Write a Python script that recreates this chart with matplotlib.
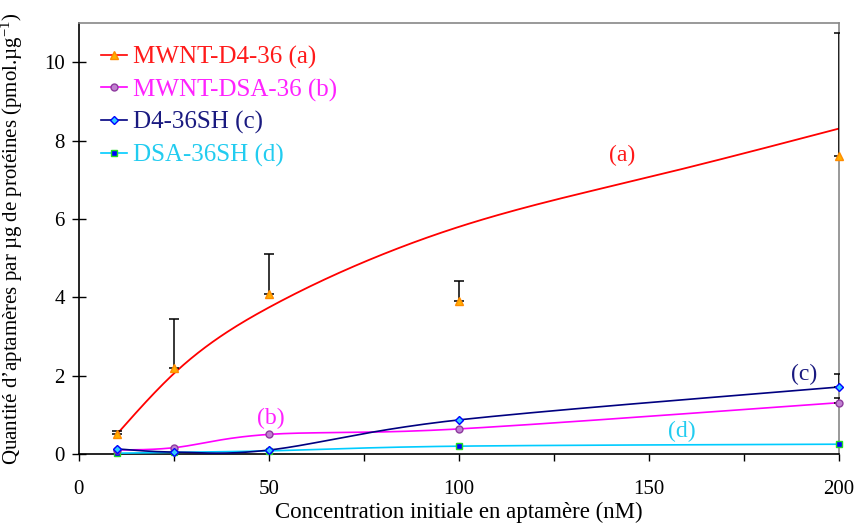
import numpy as np
import matplotlib
matplotlib.use('Agg')
import matplotlib.pyplot as plt
from matplotlib.lines import Line2D
from matplotlib.ticker import MultipleLocator

plt.rcParams['font.family'] = 'Liberation Serif'
plt.rcParams['mathtext.fontset'] = 'custom'
plt.rcParams['mathtext.rm'] = 'Liberation Serif'
plt.rcParams['mathtext.default'] = 'regular'

conc = [10, 25, 50, 100, 200]

# (a) MWNT-D4-36 : points, upper error, and the trend curve
mwnt_d4 = [0.50, 2.19, 4.09, 3.90, 7.60]
mwnt_d4_err = [0.09, 1.25, 1.01, 0.51, 3.14]
fit_x = [10, 25, 50, 75, 100, 150, 200]
fit_y = [0.50, 2.05, 3.74, 4.90, 5.80, 7.07, 8.31]
# (b) MWNT-DSA-36
mwnt_dsa = [0.10, 0.16, 0.50, 0.64, 1.31]
mwnt_dsa_err = [0, 0, 0, 0, 0.12]
# (c) D4-36SH
d4_sh = [0.13, 0.05, 0.10, 0.87, 1.71]
d4_sh_err = [0, 0, 0, 0, 0.34]
# (d) DSA-36SH
dsa_sh = [0.02, 0.04, 0.08, 0.20, 0.25]

labels = ['MWNT-D4-36 (a)', 'MWNT-DSA-36 (b)', 'D4-36SH (c)', 'DSA-36SH (d)']
line_colors = ['#FF0000', '#FF00FF', '#000080', '#00CCFF']
text_colors = ['#FF1A1A', '#FF22FF', '#1A1A80', '#22CCF0']
markers = ['^', 'o', 'D', 's']
mfcs = ['#FFB000', '#C080D0', '#33CCFF', '#0000FF']
mecs = ['#FF8C00', '#8E3A9E', '#0000FF', '#22DD22']
msizes = [5.5, 5, 4.5, 5]


def smooth(xs, ys, n=40):
    # excel-like smoothed line: bezier segments with catmull-rom control points
    p = np.column_stack([xs, ys]).astype(float)
    out = []
    for i in range(len(p) - 1):
        p0 = p[max(i - 1, 0)]
        p1 = p[i]
        p2 = p[i + 1]
        p3 = p[min(i + 2, len(p) - 1)]
        c1 = p1 + (p2 - p0) / 6
        c2 = p2 - (p3 - p1) / 6
        t = np.linspace(0, 1, n)[:, None]
        seg = (1 - t)**3 * p1 + 3 * (1 - t)**2 * t * c1 + 3 * (1 - t) * t**2 * c2 + t**3 * p2
        out.append(seg if i == 0 else seg[1:])
    out = np.vstack(out)
    return out[:, 0], out[:, 1]


def spline(xs, ys, n=40):
    # natural cubic spline in x (used to draw the trend curve)
    x = np.asarray(xs, float)
    y = np.asarray(ys, float)
    k = len(x)
    h = np.diff(x)
    A = np.zeros((k, k))
    r = np.zeros(k)
    A[0, 0] = A[-1, -1] = 1
    for i in range(1, k - 1):
        A[i, i - 1] = h[i - 1]
        A[i, i] = 2 * (h[i - 1] + h[i])
        A[i, i + 1] = h[i]
        r[i] = 6 * ((y[i + 1] - y[i]) / h[i] - (y[i] - y[i - 1]) / h[i - 1])
    M = np.linalg.solve(A, r)
    px, py = [], []
    for i in range(k - 1):
        t = np.linspace(x[i], x[i + 1], n)
        a = x[i + 1] - t
        b = t - x[i]
        seg = (M[i] * a**3 + M[i + 1] * b**3) / (6 * h[i]) \
            + (y[i] / h[i] - M[i] * h[i] / 6) * a + (y[i + 1] / h[i] - M[i + 1] * h[i] / 6) * b
        px.append(t)
        py.append(seg)
    return np.concatenate(px), np.concatenate(py)


fig = plt.figure(figsize=(8.59, 5.24), dpi=100)
ax = fig.add_axes([0.0916, 0.1336, 0.8848, 0.8219])

series = [mwnt_d4, mwnt_dsa, d4_sh, dsa_sh]
errs = [mwnt_d4_err, mwnt_dsa_err, d4_sh_err, None]

# lines
sx, sy = spline(fit_x, fit_y)
ax.plot(sx, sy, color=line_colors[0], lw=1.3, zorder=3)
for i in [3, 1, 2]:
    sx, sy = smooth(conc, series[i])
    ax.plot(sx, sy, color=line_colors[i], lw=1.2, zorder=3)

# error bars (upper only)
for i, e in enumerate(errs):
    if e is None:
        continue
    xs = [x for x, v in zip(conc, e) if v > 0]
    ys = [y for y, v in zip(series[i], e) if v > 0]
    ev = [v for v in e if v > 0]
    ax.errorbar(xs, ys, yerr=[np.zeros(len(ev)), ev], fmt='none', ecolor='black',
                elinewidth=1.1, capsize=3.5, capthick=1.1, zorder=4)

# markers
for i in [3, 1, 2, 0]:
    ax.plot(conc, series[i], ls='none', marker=markers[i], ms=msizes[i],
            mfc=mfcs[i], mec=mecs[i], mew=1, zorder=5, clip_on=False)

ax.set_xlim(0, 200)
ax.set_ylim(0, 11)

ax.xaxis.set_major_locator(MultipleLocator(50))
ax.xaxis.set_minor_locator(MultipleLocator(25))
ax.yaxis.set_major_locator(MultipleLocator(2))
ax.tick_params(axis='x', which='both', direction='out', length=5, width=1, pad=14, labelsize=15)
ax.tick_params(axis='y', direction='inout', length=10, width=1, pad=5, labelsize=15)

for s in ['top', 'right']:
    ax.spines[s].set_color('#888888')
    ax.spines[s].set_linewidth(1.2)
for s in ['left', 'bottom']:
    ax.spines[s].set_color('black')
    ax.spines[s].set_linewidth(1.2)

ax.set_xlabel('Concentration initiale en aptamère (nM)', fontsize=16.5)
ax.xaxis.set_label_coords(0.5, -0.112)
ax.set_ylabel('Quantité d\u2019aptamères par µg de protéines (pmol.µg$^{-1}$)', fontsize=15)
ax.yaxis.set_label_coords(-0.071, 0.5)

# curve labels
ax.text(142.9, 7.63, '(a)', color=text_colors[0], fontsize=17, ha='center', va='center')
ax.text(50.6, 0.91, '(b)', color=text_colors[1], fontsize=17, ha='center', va='center')
ax.text(190.9, 2.02, '(c)', color=text_colors[2], fontsize=17, ha='center', va='center')
ax.text(158.7, 0.57, '(d)', color=text_colors[3], fontsize=17, ha='center', va='center')

handles = []
for i in range(4):
    handles.append(Line2D([], [], color=line_colors[i], lw=1.2, marker=markers[i],
                          ms=msizes[i], mfc=mfcs[i], mec=mecs[i], mew=1))
leg = ax.legend(handles, labels, loc='upper left', bbox_to_anchor=(0.029, 0.948),
                frameon=False, fontsize=18, handlelength=1.05, handletextpad=0.25,
                labelspacing=0.39, borderpad=0, borderaxespad=0)
for t, c in zip(leg.get_texts(), text_colors):
    t.set_color(c)

plt.savefig('out.png', dpi=100)
